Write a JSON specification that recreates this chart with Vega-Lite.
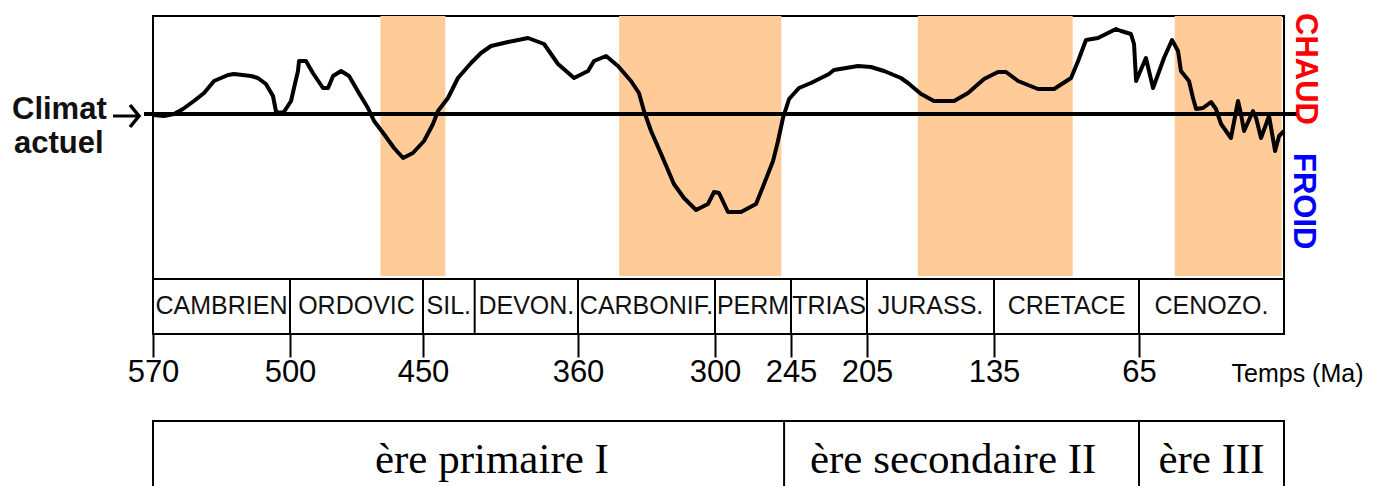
{
  "$schema": "https://vega.github.io/schema/vega-lite/v6.json",
  "autosize": {"type": "pad"},
  "padding": {"left": 11, "top": 12, "right": 0, "bottom": 0},
  "background": "white",
  "bounds": "flush",
  "spacing": 0,
  "config": {
    "view": {"stroke": "black", "strokeWidth": 2},
    "font": "Liberation Sans"
  },
  "datasets": {
    "bandes": [
      {"debut": 466, "fin": 437},
      {"debut": 342, "fin": 252},
      {"debut": 177, "fin": 97},
      {"debut": 49, "fin": 1}
    ],
    "climat": [
      {"ma": 570, "indice": -0.1}, {"ma": 564.4, "indice": -0.2}, {"ma": 559.3, "indice": 0},
      {"ma": 554.7, "indice": 0.5}, {"ma": 549.1, "indice": 1.3}, {"ma": 543.9, "indice": 2.1},
      {"ma": 538.8, "indice": 3.3}, {"ma": 531.7, "indice": 3.9}, {"ma": 528.6, "indice": 4.0},
      {"ma": 519.9, "indice": 3.8}, {"ma": 516.4, "indice": 3.6}, {"ma": 512.3, "indice": 3.0},
      {"ma": 508.7, "indice": 1.8}, {"ma": 507.2, "indice": 0.3}, {"ma": 505.6, "indice": 0.1},
      {"ma": 503.1, "indice": 0.2}, {"ma": 499.6, "indice": 1.3}, {"ma": 498.5, "indice": 2.6},
      {"ma": 497.0, "indice": 4.3}, {"ma": 496.6, "indice": 5.3}, {"ma": 494.0, "indice": 5.3},
      {"ma": 491.4, "indice": 4.1}, {"ma": 487.6, "indice": 2.6}, {"ma": 485.7, "indice": 2.6},
      {"ma": 483.8, "indice": 3.8}, {"ma": 480.8, "indice": 4.3}, {"ma": 477.8, "indice": 3.8},
      {"ma": 474.1, "indice": 2.1}, {"ma": 470.7, "indice": 0.6}, {"ma": 468.4, "indice": -0.7},
      {"ma": 464.7, "indice": -2.0}, {"ma": 460.9, "indice": -3.4}, {"ma": 457.5, "indice": -4.4},
      {"ma": 453.8, "indice": -3.9}, {"ma": 449.4, "indice": -2.7}, {"ma": 444.2, "indice": -1.0},
      {"ma": 441.3, "indice": 0.3}, {"ma": 435.5, "indice": 1.6}, {"ma": 429.7, "indice": 3.6},
      {"ma": 422.1, "indice": 5.1}, {"ma": 416.3, "indice": 6.1}, {"ma": 410.5, "indice": 6.8},
      {"ma": 400.6, "indice": 7.2}, {"ma": 389.0, "indice": 7.6}, {"ma": 379.7, "indice": 7.0},
      {"ma": 371.6, "indice": 5.0}, {"ma": 362.3, "indice": 3.6}, {"ma": 355.6, "indice": 4.3},
      {"ma": 353.0, "indice": 5.3}, {"ma": 347.7, "indice": 5.8}, {"ma": 342.5, "indice": 4.8},
      {"ma": 336.8, "indice": 3.3}, {"ma": 333.3, "indice": 2.1}, {"ma": 331.1, "indice": 0.3},
      {"ma": 328.0, "indice": -1.7}, {"ma": 323.6, "indice": -4.0}, {"ma": 318.0, "indice": -7.0},
      {"ma": 313.6, "indice": -8.4}, {"ma": 308.3, "indice": -9.6}, {"ma": 303.1, "indice": -9.0},
      {"ma": 300.4, "indice": -7.8}, {"ma": 297.1, "indice": -7.9}, {"ma": 290.6, "indice": -9.8},
      {"ma": 281.2, "indice": -9.8}, {"ma": 270.3, "indice": -9.0}, {"ma": 264.5, "indice": -7.0},
      {"ma": 258.0, "indice": -4.7}, {"ma": 254.4, "indice": -2.7}, {"ma": 250.8, "indice": -0.4},
      {"ma": 246.4, "indice": 1.5}, {"ma": 240.8, "indice": 2.6}, {"ma": 234.5, "indice": 3.1},
      {"ma": 225.0, "indice": 4.0}, {"ma": 222.4, "indice": 4.4}, {"ma": 209.7, "indice": 4.8},
      {"ma": 202.8, "indice": 4.7}, {"ma": 195.6, "indice": 4.3}, {"ma": 186.3, "indice": 3.6},
      {"ma": 182.4, "indice": 3.1}, {"ma": 175.2, "indice": 2.0}, {"ma": 168.1, "indice": 1.3},
      {"ma": 157.0, "indice": 1.3}, {"ma": 149.3, "indice": 2.1}, {"ma": 140.5, "indice": 3.5},
      {"ma": 133.1, "indice": 4.2}, {"ma": 129.2, "indice": 4.2}, {"ma": 123.4, "indice": 3.3},
      {"ma": 113.8, "indice": 2.5}, {"ma": 106.0, "indice": 2.5}, {"ma": 97.8, "indice": 3.6},
      {"ma": 94.4, "indice": 5.3}, {"ma": 90.6, "indice": 7.4}, {"ma": 84.8, "indice": 7.6},
      {"ma": 76.1, "indice": 8.5}, {"ma": 73.7, "indice": 8.3}, {"ma": 68.9, "indice": 8.0},
      {"ma": 67.4, "indice": 7.0}, {"ma": 66.4, "indice": 3.3}, {"ma": 61.9, "indice": 5.6},
      {"ma": 58.7, "indice": 2.6}, {"ma": 53.8, "indice": 5.6}, {"ma": 50.2, "indice": 7.4},
      {"ma": 47.5, "indice": 6.3}, {"ma": 46.2, "indice": 4.3}, {"ma": 42.6, "indice": 3.3},
      {"ma": 40.8, "indice": 1.6}, {"ma": 39.4, "indice": 0.5}, {"ma": 36.3, "indice": 0.6},
      {"ma": 32.7, "indice": 1.2}, {"ma": 30.5, "indice": 0.5}, {"ma": 28.2, "indice": -1.0},
      {"ma": 23.8, "indice": -2.4}, {"ma": 20.6, "indice": 1.3}, {"ma": 19.3, "indice": 0},
      {"ma": 17.9, "indice": -1.7}, {"ma": 13.9, "indice": 0.3}, {"ma": 12.5, "indice": -0.4},
      {"ma": 10.3, "indice": -2.4}, {"ma": 6.7, "indice": -0.2}, {"ma": 4.0, "indice": -3.7},
      {"ma": 2.2, "indice": -2.2}, {"ma": 0, "indice": -1.7}
    ],
    "periodes": [
      {"nom": "CAMBRIEN", "debut": 570, "fin": 500},
      {"nom": "ORDOVIC", "debut": 500, "fin": 450},
      {"nom": "SIL.", "debut": 450, "fin": 420},
      {"nom": "DEVON.", "debut": 420, "fin": 360},
      {"nom": "CARBONIF.", "debut": 360, "fin": 300},
      {"nom": "PERM", "debut": 300, "fin": 245},
      {"nom": "TRIAS", "debut": 245, "fin": 205},
      {"nom": "JURASS.", "debut": 205, "fin": 135},
      {"nom": "CRETACE", "debut": 135, "fin": 65},
      {"nom": "CENOZO.", "debut": 65, "fin": 0}
    ],
    "eres": [
      {"nom": "ère primaire I", "debut": 570, "fin": 250},
      {"nom": "ère secondaire II", "debut": 250, "fin": 65},
      {"nom": "ère III", "debut": 65, "fin": 0}
    ]
  },
  "vconcat": [
    {
      "width": 1131,
      "height": 263,
      "layer": [
        {
          "data": {"name": "bandes"},
          "mark": {"type": "rect", "color": "#FFCC99"},
          "encoding": {
            "x": {"field": "debut", "type": "quantitative", "axis": null,
                  "scale": {"type": "linear", "domain": [570, 500, 450, 360, 300, 245, 205, 135, 65, 0], "range": [0, 137, 270, 425, 562, 638, 714, 841, 986, 1131], "nice": false, "zero": false}},
            "x2": {"field": "fin"},
            "y": {"datum": 9.8, "type": "quantitative", "axis": null,
                  "scale": {"domain": [-16.5, 9.8], "nice": false, "zero": false}},
            "y2": {"datum": -16.2}
          }
        },
        {
          "data": {"values": [{}]},
          "mark": {"type": "rule", "color": "black", "strokeWidth": 4, "xOffset": -9, "x2Offset": 13},
          "encoding": {
            "x": {"datum": 570, "type": "quantitative", "axis": null},
            "x2": {"datum": 0},
            "y": {"datum": 0, "type": "quantitative", "axis": null}
          }
        },
        {
          "data": {"name": "climat"},
          "mark": {"type": "line", "color": "black", "strokeWidth": 4, "strokeJoin": "round"},
          "encoding": {
            "x": {"field": "ma", "type": "quantitative", "axis": null},
            "y": {"field": "indice", "type": "quantitative", "axis": null}
          }
        },
        {
          "data": {"values": [{}]},
          "mark": {"type": "rule", "color": "black", "strokeWidth": 3, "xOffset": -40, "x2Offset": -15, "yOffset": 2},
          "encoding": {
            "x": {"datum": 570, "type": "quantitative", "axis": null},
            "x2": {"datum": 570},
            "y": {"datum": 0, "type": "quantitative", "axis": null}
          }
        },
        {
          "data": {"values": [{}]},
          "mark": {"type": "point", "shape": "M-0.9,-1.1L0,0L-0.9,1.1", "filled": false, "size": 400, "strokeWidth": 3.5, "color": "black", "opacity": 1, "xOffset": -14, "yOffset": 2},
          "encoding": {
            "x": {"datum": 570, "type": "quantitative", "axis": null},
            "y": {"datum": 0, "type": "quantitative", "axis": null}
          }
        },
        {
          "data": {"values": [{}]},
          "mark": {"type": "text", "text": "Climat", "align": "left", "baseline": "alphabetic", "fontSize": 31, "fontWeight": "bold", "color": "#111111", "xOffset": -141, "yOffset": 5},
          "encoding": {
            "x": {"datum": 570, "type": "quantitative", "axis": null},
            "y": {"datum": 0, "type": "quantitative", "axis": null}
          }
        },
        {
          "data": {"values": [{}]},
          "mark": {"type": "text", "text": "actuel", "align": "left", "baseline": "alphabetic", "fontSize": 31, "fontWeight": "bold", "color": "#111111", "xOffset": -139, "yOffset": 39},
          "encoding": {
            "x": {"datum": 570, "type": "quantitative", "axis": null},
            "y": {"datum": 0, "type": "quantitative", "axis": null}
          }
        },
        {
          "data": {"values": [{}]},
          "mark": {"type": "text", "text": "CHAUD", "angle": 90, "align": "left", "baseline": "alphabetic", "fontSize": 31, "fontWeight": "bold", "color": "#FF0000", "xOffset": 12, "yOffset": -3},
          "encoding": {
            "x": {"datum": 0, "type": "quantitative", "axis": null},
            "y": {"datum": 9.8, "type": "quantitative", "axis": null}
          }
        },
        {
          "data": {"values": [{}]},
          "mark": {"type": "text", "text": "FROID", "angle": 90, "align": "left", "baseline": "alphabetic", "fontSize": 31, "fontWeight": "bold", "color": "#0000FF", "xOffset": 10, "yOffset": 137},
          "encoding": {
            "x": {"datum": 0, "type": "quantitative", "axis": null},
            "y": {"datum": 9.8, "type": "quantitative", "axis": null}
          }
        }
      ]
    },
    {
      "width": 1131,
      "height": 55,
      "layer": [
        {
          "data": {"name": "periodes"},
          "transform": [{"filter": "datum.fin > 0"}],
          "mark": {"type": "rule", "color": "black", "strokeWidth": 2},
          "encoding": {
            "x": {"field": "fin", "type": "quantitative", "title": "Temps (Ma)",
                  "scale": {"type": "linear", "domain": [570, 500, 450, 360, 300, 245, 205, 135, 65, 0], "range": [0, 137, 270, 425, 562, 638, 714, 841, 986, 1131], "nice": false, "zero": false},
                  "axis": {"values": [570, 500, 450, 360, 300, 245, 205, 135, 65], "domain": false, "grid": false, "tickSize": 23, "tickWidth": 2, "tickColor": "black", "labelFontSize": 31, "labelColor": "black", "labelFont": "Liberation Sans", "labelBaseline": "alphabetic", "labelPadding": 24, "labelFlush": false, "labelOverlap": false, "format": "d", "titleFontSize": 25, "titleFontWeight": "normal", "titleColor": "black", "titleFont": "Liberation Sans", "titleX": 1210, "titleY": 47, "titleAlign": "right", "titleBaseline": "alphabetic"}}
          }
        },
        {
          "data": {"name": "periodes"},
          "transform": [{"fold": ["debut", "fin"], "as": ["borne", "ma"]}],
          "mark": {"type": "text", "fontSize": 25, "baseline": "alphabetic", "dy": 7.5, "color": "#111111"},
          "encoding": {
            "x": {"aggregate": "mean", "field": "ma", "type": "quantitative", "title": "Temps (Ma)"},
            "text": {"field": "nom", "type": "nominal"}
          }
        }
      ]
    },
    {
      "width": 1131,
      "height": 87,
      "view": {"stroke": null},
      "data": {"values": []},
      "mark": "point"
    },
    {
      "width": 1131,
      "height": 104,
      "layer": [
        {
          "data": {"name": "eres"},
          "transform": [{"filter": "datum.fin > 0"}],
          "mark": {"type": "rule", "color": "black", "strokeWidth": 2},
          "encoding": {
            "x": {"field": "fin", "type": "quantitative", "axis": null,
                  "scale": {"type": "linear", "domain": [570, 500, 450, 360, 300, 245, 205, 135, 65, 0], "range": [0, 137, 270, 425, 562, 638, 714, 841, 986, 1131], "nice": false, "zero": false}}
          }
        },
        {
          "data": {"name": "eres"},
          "transform": [{"fold": ["debut", "fin"], "as": ["borne", "ma"]}],
          "mark": {"type": "text", "font": "Liberation Serif", "fontSize": 43, "baseline": "alphabetic", "color": "black"},
          "encoding": {
            "x": {"aggregate": "mean", "field": "ma", "type": "quantitative", "axis": null},
            "text": {"field": "nom", "type": "nominal"}
          }
        }
      ]
    }
  ]
}
